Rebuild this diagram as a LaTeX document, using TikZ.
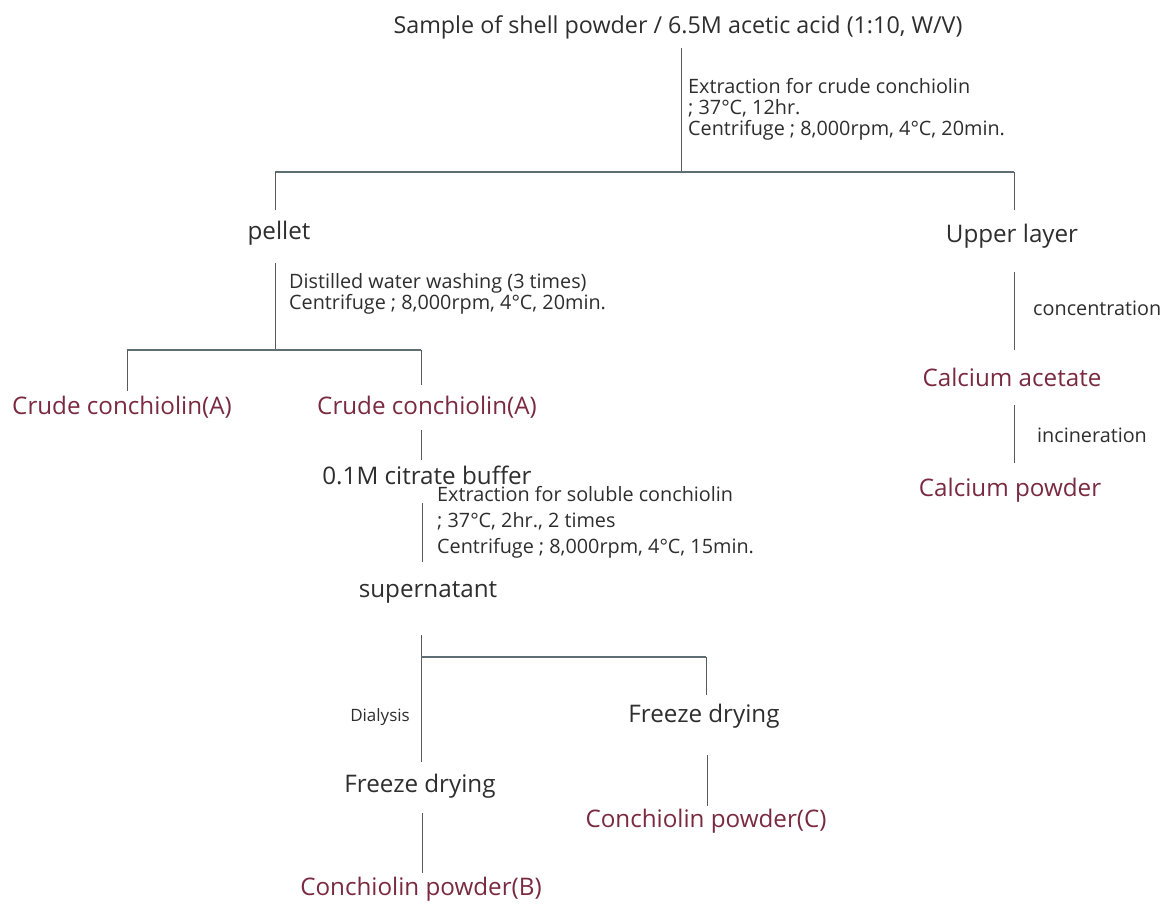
\documentclass[tikz,border=0pt]{standalone}
\usepackage{fontspec}
\setmainfont{Open Sans}
\definecolor{txt}{HTML}{2E2E2E}
\definecolor{red}{HTML}{7A2A40}
\definecolor{ln}{HTML}{5A5A5A}
\definecolor{hl}{HTML}{5E6E74}
\begin{document}
\begin{tikzpicture}[x=1pt,y=-1pt,
  big/.style={inner sep=0pt,text=txt,font=\fontsize{24.2}{28}\selectfont},
  bigred/.style={big,text=red},
  small/.style={inner sep=0pt,text=txt,anchor=west,align=left},
  vline/.style={draw=ln,line width=0.9pt},
  hline/.style={draw=hl,line width=1.6pt}]
\useasboundingbox[fill=white] (0,0) rectangle (1168,905);
% nodes
\node[big,font=\fontsize{23.3}{27}\selectfont] (title) at (678,27) {Sample of shell powder / 6.5M acetic acid (1:10, W/V)};
\node[small,font=\fontsize{19.8}{21}\selectfont] (ext1) at (688,109) {Extraction for crude conchiolin\\; 37°C, 12hr.\\Centrifuge ; 8,000rpm, 4°C, 20min.};
\node[big] (pellet) at (279,233) {pellet};
\node[big] (upper) at (1012,236) {Upper layer};
\node[small,font=\fontsize{19.8}{19.5}\selectfont] (wash) at (289,294) {Distilled water washing (3 times)\\Centrifuge ; 8,000rpm, 4°C, 20min.};
\node[bigred] (crudeL) at (122,407) {Crude conchiolin(A)};
\node[bigred] (crudeR) at (427,407) {Crude conchiolin(A)};
\node[big] (citrate) at (427,475) {0.1M citrate buffer};
\node[small,font=\fontsize{19.8}{26}\selectfont] (ext2) at (437,522) {Extraction for soluble conchiolin\\; 37°C, 2hr., 2 times\\Centrifuge ; 8,000rpm, 4°C, 15min.};
\node[big] (super) at (428,592) {supernatant};
\node[small,anchor=east,font=\fontsize{17}{19}\selectfont] (dial) at (410,717) {Dialysis};
\node[big] (freezeR) at (704,716) {Freeze drying};
\node[big] (freezeL) at (420,786) {Freeze drying};
\node[bigred] (powC) at (706,821) {Conchiolin powder(C)};
\node[bigred] (powB) at (421,889) {Conchiolin powder(B)};
\node[small,font=\fontsize{19.8}{22}\selectfont] (conc) at (1033,308) {concentration};
\node[bigred] (acet) at (1012,377) {Calcium acetate};
\node[small,font=\fontsize{19.8}{22}\selectfont] (incin) at (1037,435) {incineration};
\node[bigred] (capow) at (1010,490) {Calcium powder};
% junction coordinates
\coordinate (t1) at (681,48);
\coordinate (j1) at (681,172);
\coordinate (h1l) at (275,172);
\coordinate (h1r) at (1014,172);
\coordinate (p1) at (275,210);
\coordinate (u1) at (1014,210);
\coordinate (p2) at (275,263);
\coordinate (j2) at (275,350);
\coordinate (h2l) at (127,350);
\coordinate (h2r) at (421,350);
\coordinate (cl1) at (127,391);
\coordinate (cr1) at (421,385);
\coordinate (cr2) at (421,430);
\coordinate (cb1) at (421,460);
\coordinate (cb2) at (422,503);
\coordinate (sp1) at (422,562);
\coordinate (sp2) at (421,635);
\coordinate (j3) at (421,657);
\coordinate (h3r) at (706,657);
\coordinate (fr1) at (706,695);
\coordinate (fl1) at (421,762);
\coordinate (fr2) at (707,755);
\coordinate (pc1) at (707,806);
\coordinate (fl2) at (422,813);
\coordinate (pb1) at (422,873);
\coordinate (u2) at (1014,272);
\coordinate (a1) at (1014,350);
\coordinate (a2) at (1014,405);
\coordinate (cp1) at (1014,463);
% connectors
\draw[vline] (t1) -- (j1);
\draw[hline] (h1l) -- (h1r);
\draw[vline] (h1l) -- (p1);
\draw[vline] (h1r) -- (u1);
\draw[vline] (p2) -- (j2);
\draw[hline] (h2l) -- (h2r);
\draw[vline] (h2l) -- (cl1);
\draw[vline] (h2r) -- (cr1);
\draw[vline] (cr2) -- (cb1);
\draw[vline] (cb2) -- (sp1);
\draw[vline] (sp2) -- (fl1);
\draw[hline] (j3) -- (h3r);
\draw[vline] (h3r) -- (fr1);
\draw[vline] (fr2) -- (pc1);
\draw[vline] (fl2) -- (pb1);
\draw[vline] (u2) -- (a1);
\draw[vline] (a2) -- (cp1);
\end{tikzpicture}
\end{document}
